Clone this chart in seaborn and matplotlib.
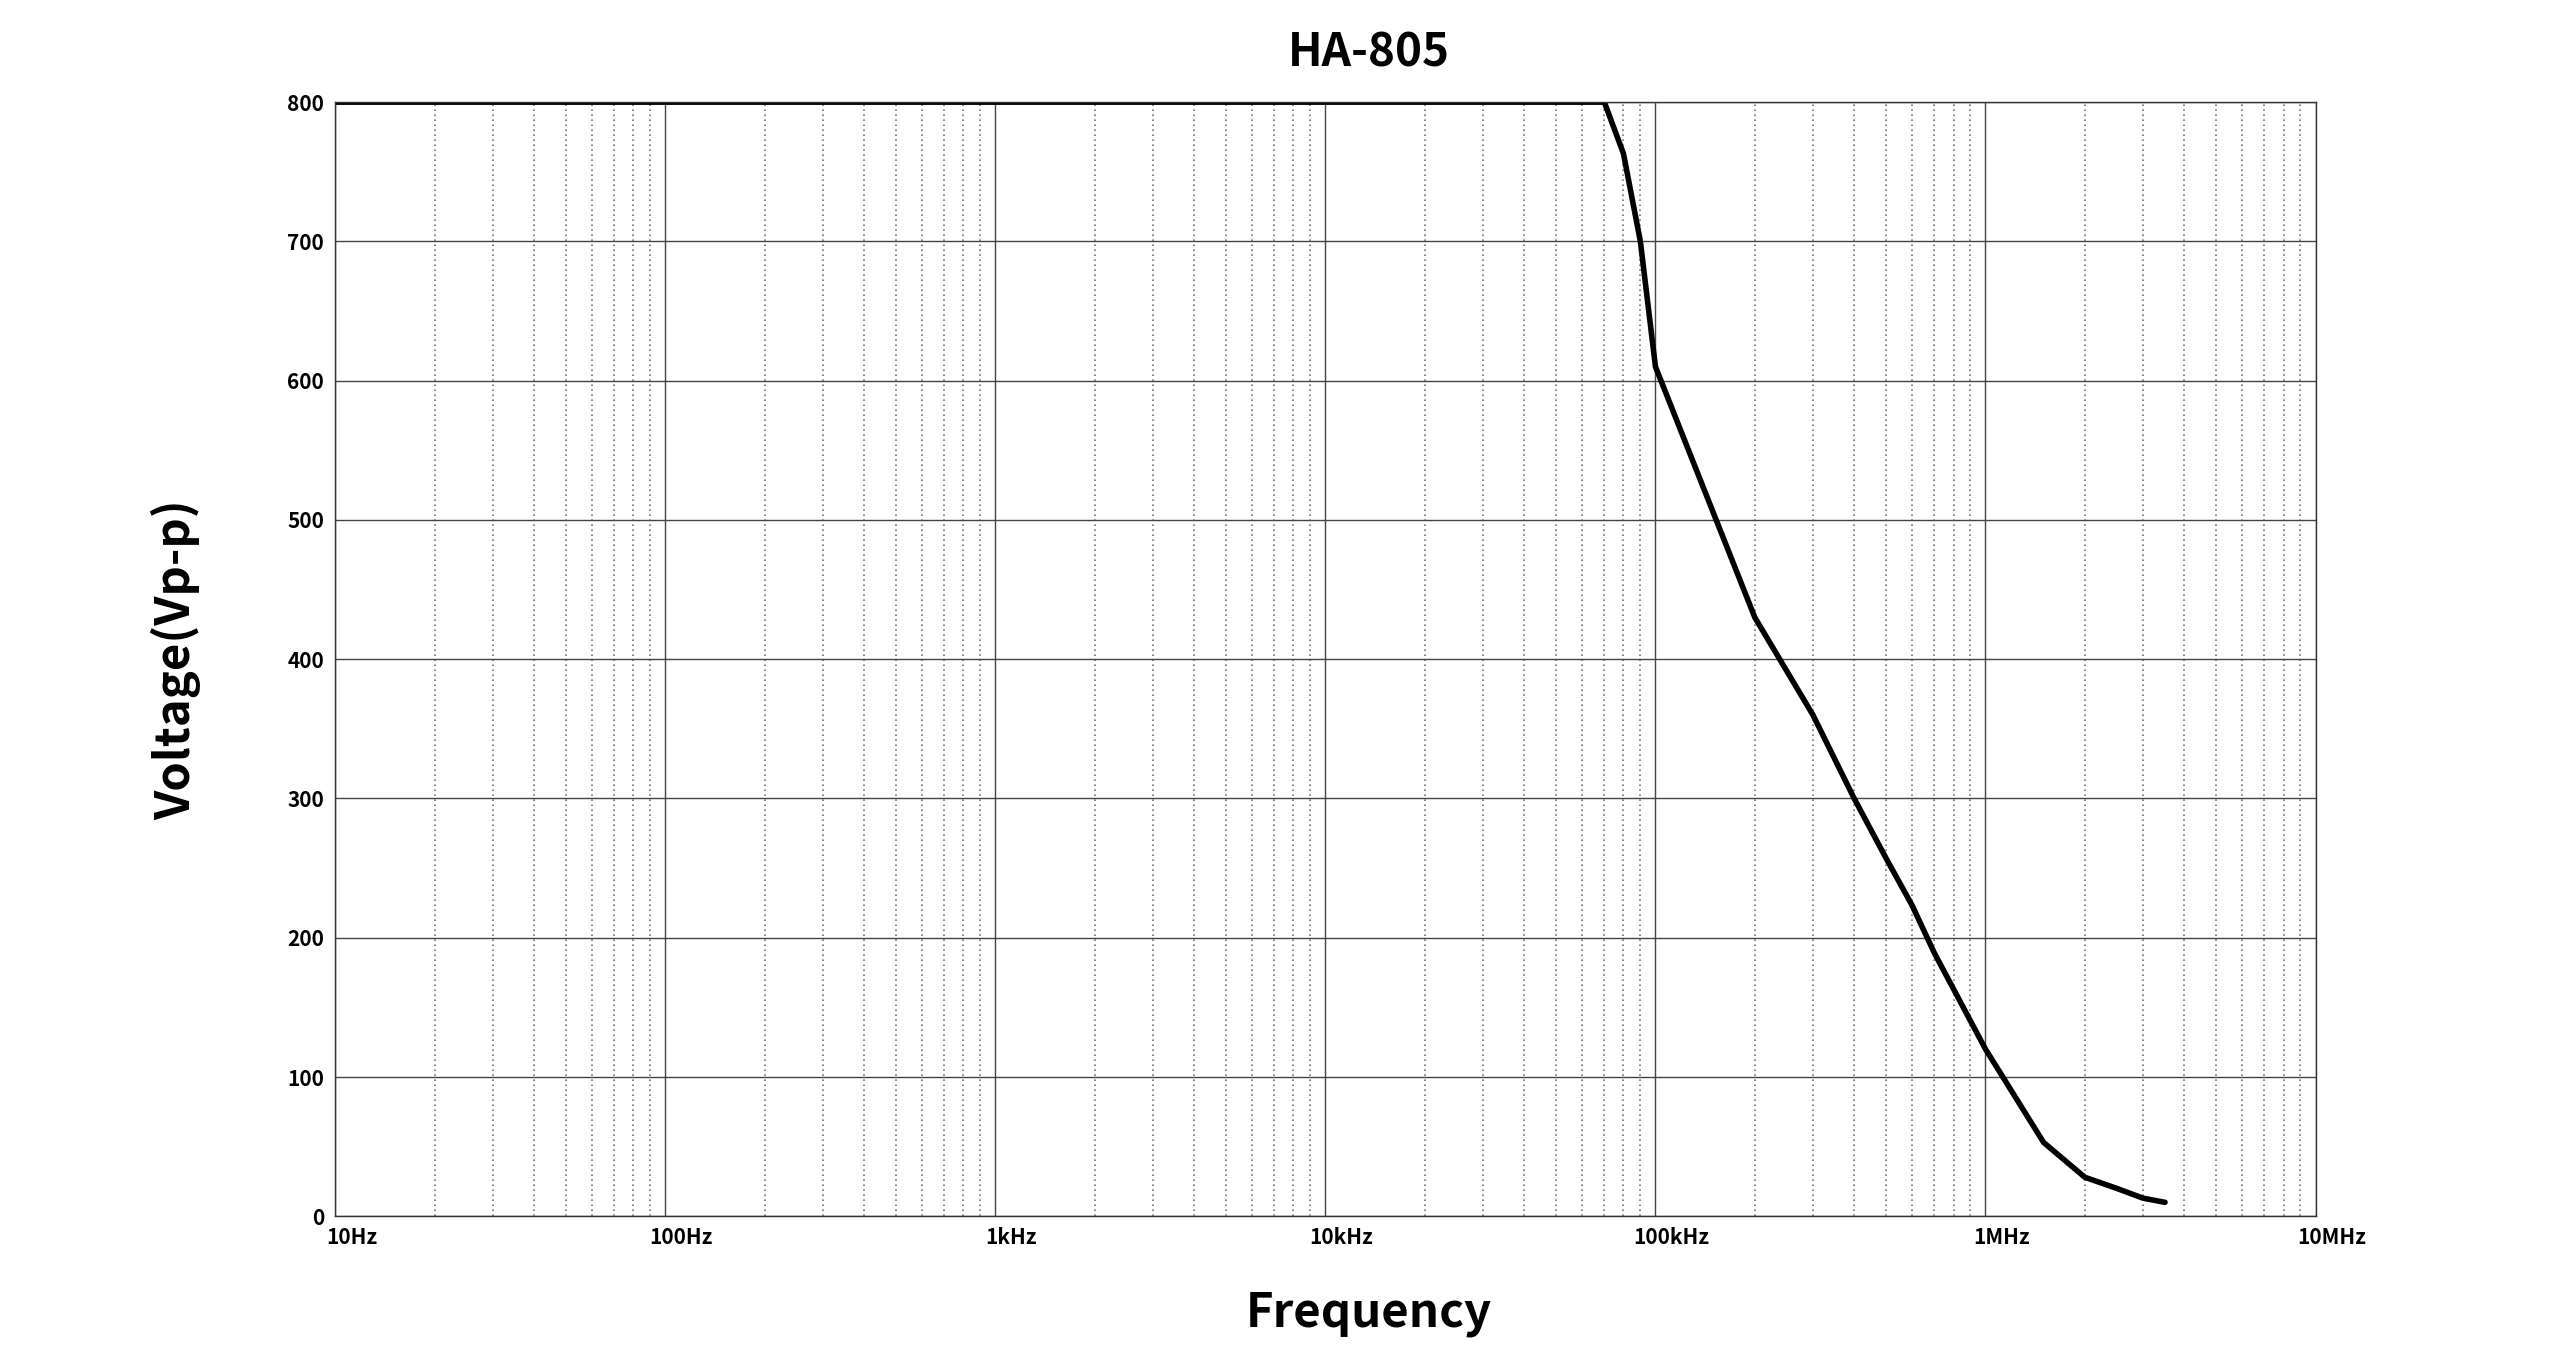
import matplotlib
matplotlib.use("Agg")
import matplotlib.pyplot as plt
import matplotlib.transforms as mtrans
import seaborn as sns
import pandas as pd
from matplotlib.ticker import LogLocator, NullFormatter

freq_hz = [10, 70e3, 80e3, 90e3, 100e3, 200e3, 300e3, 400e3, 500e3, 600e3, 700e3, 1e6, 1.5e6, 2e6, 2.5e6, 3e6, 3.5e6]
voltage = [800, 800, 763, 700, 610, 430, 360, 300, 257, 223, 189, 120, 53, 28, 20, 13, 10]
x_tick_vals = [10, 100, 1e3, 1e4, 1e5, 1e6, 1e7]
x_tick_labels = ["10Hz", "100Hz", "1kHz", "10kHz", "100kHz", "1MHz", "10MHz"]
y_ticks = [0, 100, 200, 300, 400, 500, 600, 700, 800]

sns.set_style("white")
plt.rcParams['font.family'] = ['Noto Sans CJK SC', 'DejaVu Sans']
plt.rcParams['text.color'] = 'black'
plt.rcParams['xtick.color'] = 'black'
plt.rcParams['ytick.color'] = 'black'
plt.rcParams['axes.labelcolor'] = 'black'

fig = plt.figure(figsize=(25.6, 13.62), dpi=100)
ax = fig.add_axes([0.131, 0.107, 0.7735, 0.818])
df = pd.DataFrame({"f": freq_hz, "v": voltage})
sns.lineplot(data=df, x="f", y="v", ax=ax, color="black", linewidth=4, sort=False)
ax.set_xscale("log")
ax.set_xlim(10, 1e7)
ax.set_ylim(0, 800)
ax.set_xticks(x_tick_vals)
ax.set_xticklabels(x_tick_labels, fontsize=15, fontweight="bold")
ax.xaxis.set_minor_locator(LogLocator(base=10, subs=range(2, 10), numticks=100))
ax.xaxis.set_minor_formatter(NullFormatter())
ax.set_yticks(y_ticks)
ax.set_yticklabels([str(v) for v in y_ticks], fontsize=15, fontweight="bold")
ax.tick_params(axis="both", which="both", length=0, pad=8)
off = mtrans.ScaledTranslation(0.16, 0, fig.dpi_scale_trans)
for lab in ax.get_xticklabels():
    lab.set_transform(lab.get_transform() + off)
ax.grid(True, which="major", color="#444444", linewidth=1.0, linestyle="-")
ax.grid(True, which="minor", axis="x", color="#777777", linewidth=1.2, linestyle=(0, (1, 2)))
for s in ax.spines.values():
    s.set_visible(True)
    s.set_color("#333333")
    s.set_linewidth(1.0)
ax.set_xlabel("Frequency", fontsize=34, fontweight="bold", labelpad=22)
ax.xaxis.set_label_coords(0.522, -0.065)
ax.set_ylabel("Voltage(Vp-p)", fontsize=34, fontweight="bold", labelpad=62)
ax.set_title("HA-805", fontsize=33, fontweight="bold", pad=26, x=0.522)
fig.savefig("out.png", dpi=100)
